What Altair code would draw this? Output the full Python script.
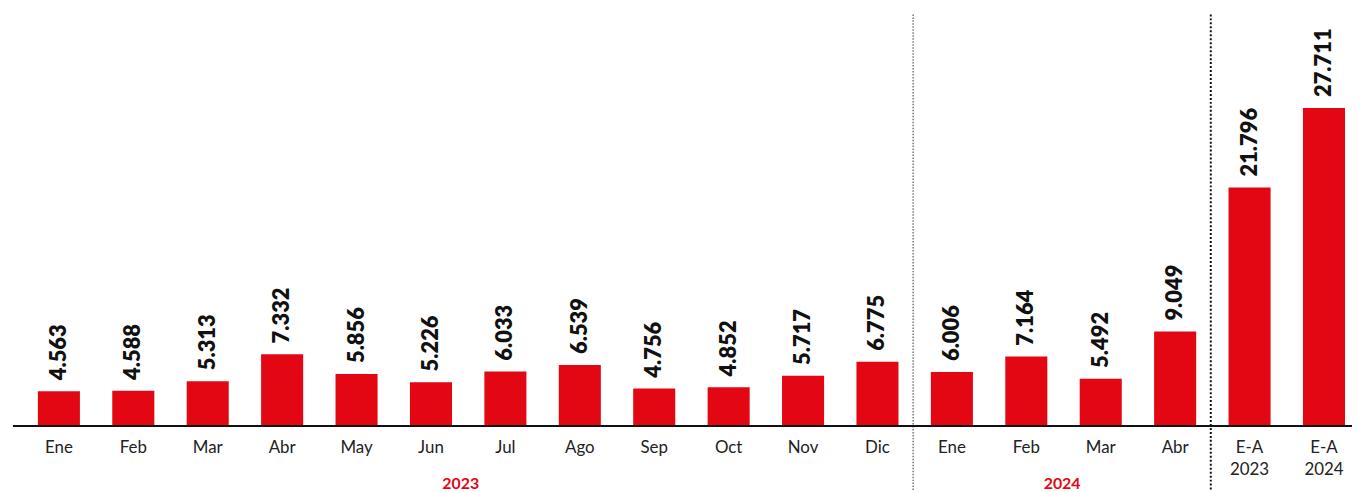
import altair as alt
import pandas as pd

# ---- data ----
labels = ["Ene", "Feb", "Mar", "Abr", "May", "Jun", "Jul", "Ago", "Sep", "Oct", "Nov", "Dic",
          "Ene", "Feb", "Mar", "Abr", "E-A\n2023", "E-A\n2024"]
values = [4563, 4588, 5313, 7332, 5856, 5226, 6033, 6539, 4756, 4852, 5717, 6775,
          6006, 7164, 5492, 9049, 21796, 27711]
groups = ["m"] * 16 + ["ea"] * 2
years = ["2023", "2024"]

keys = [f"k{i:02d}" for i in range(len(labels))]
df = pd.DataFrame({
    "key": keys,
    "label": labels,
    "value": values,
    "group": groups,
    "txt": [f"{v:,}".replace(",", ".") for v in values],
})

RED = "#E30613"
W, H = 1329, 419

xenc = alt.X("key:N", scale=alt.Scale(domain=keys, paddingInner=0.435, paddingOuter=0.094, round=False),
             axis=None)

base = alt.Chart(df)

def bars_and_labels(group, domain):
    ysc = alt.Scale(domain=domain, zero=False, nice=False)
    b = base.transform_filter(alt.datum.group == group)
    bars = b.mark_bar(color=RED).encode(
        x=xenc, y=alt.Y("value:Q", scale=ysc, axis=None), y2=alt.Y2(datum=domain[0]))
    txt = b.mark_text(angle=270, align="left", baseline="middle", dx=11,
                      font="Lato", fontSize=22, fontWeight=800, color="#111111").encode(
        x=xenc, y=alt.Y("value:Q", scale=ysc, axis=None), text="txt:N")
    return alt.layer(bars, txt)

monthly = bars_and_labels("m", [1945, 33285])
ea = bars_and_labels("ea", [4050, 35040])

# x labels
xlab = base.mark_text(baseline="top", align="center", font="Lato", fontSize=17,
                      lineBreak="\n", lineHeight=22, color="#222222").encode(
    x=xenc, y=alt.value(433), text="label:N")

# baseline
baseline = base.transform_filter(alt.datum.key == "k00").mark_rule(color="#111111", strokeWidth=2).encode(
    x=alt.value(-18), x2=alt.value(W), y=alt.value(H))

# separators (rule on a band scale sits at the band start)
sep1 = base.transform_filter(alt.datum.key == "k11").mark_rule(
    color="#555555", strokeWidth=1.2, strokeDash=[1.5, 1.5]).encode(
    x=xenc, xOffset=alt.value(57), y=alt.value(5), y2=alt.value(484))
sep2 = base.transform_filter(alt.datum.key == "k15").mark_rule(
    color="#111111", strokeWidth=2, strokeDash=[2, 2]).encode(
    x=xenc, xOffset=alt.value(57), y=alt.value(5), y2=alt.value(484))

# year labels
y23 = base.transform_filter(alt.datum.key == "k05").mark_text(
    dx=30, baseline="middle", font="Lato", fontSize=16, fontWeight="bold", color=RED).encode(
    x=xenc, y=alt.value(477), text=alt.value(years[0]))
y24 = base.transform_filter(alt.datum.key == "k13").mark_text(
    dx=36, baseline="middle", font="Lato", fontSize=16, fontWeight="bold", color=RED).encode(
    x=xenc, y=alt.value(477), text=alt.value(years[1]))

chart = alt.layer(monthly, ea, xlab, sep1, sep2, baseline, y23, y24).resolve_scale(
    y="independent"
).properties(
    width=W, height=H,
    autosize=alt.AutoSizeParams(type="none"),
    padding={"left": 23, "top": 0, "right": 0, "bottom": 65},
).configure_view(stroke=None)

chart.save("out.html", embed_options={"renderer": "svg", "actions": False})
